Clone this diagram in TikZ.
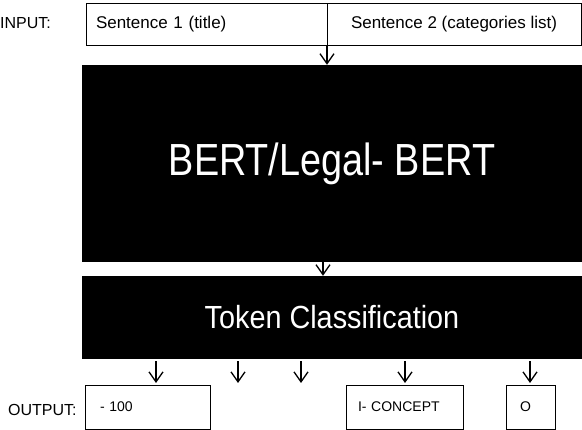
\documentclass[tikz,border=0pt]{standalone}
\usepackage{fontspec}
\setmainfont{Liberation Sans}
\usetikzlibrary{arrows.meta}
\tikzset{
  box/.style={draw=black, line width=0.9pt, minimum height=42pt, inner ysep=0pt, font=\fontsize{17}{20}\selectfont},
  blackbox/.style={fill=black, draw=none, text=white, minimum width=500pt, inner sep=0pt},
  outbox/.style={draw=black, line width=0.9pt, minimum height=44pt, inner ysep=0pt, align=left, font=\fontsize{14}{16}\selectfont},
  lbl/.style={anchor=west, inner sep=0pt, font=\fontsize{16}{18}\selectfont},
  arr/.style={-{Straight Barb[length=10pt,width=14pt,line width=1.3pt]}, line width=1.3pt}
}
\begin{document}
\begin{tikzpicture}[x=1pt,y=-1pt]
\useasboundingbox (0,0) rectangle (582,430);
% input
\node[box, text width=221pt, inner xsep=10pt, align=left] (in1) at (206.5,24) {Sentence 1 (title)};
\node[box, minimum width=254pt, inner xsep=0pt] (in2) at (454,24) {Sentence 2 (categories list)};
\node[lbl] (inlbl) at (0,23) {INPUT:};
% BERT
\node[blackbox, minimum height=197pt] (bert) at (332,163.5) {\fontsize{45}{50}\selectfont\scalebox{0.84}[1]{BERT/Legal- BERT}};
\node[blackbox, minimum height=83pt] (tok) at (332,317.5) {\fontsize{32}{36}\selectfont\scalebox{0.9}[1]{Token Classification}};
% outputs
\node[outbox, text width=95pt, inner xsep=15pt] (out1) at (147.5,407) {- 100};
\node[outbox, text width=93pt, inner xsep=12pt] (out2) at (404.5,407) {I- CONCEPT};
\node[outbox, text width=21pt, inner xsep=14pt] (out3) at (530.5,407) {O};
\node[lbl] (outlbl) at (8,410) {OUTPUT:};
% arrows
\coordinate (t0) at (327,46);
\draw[arr] (t0) -- (bert.north -| t0);
\coordinate (t1) at (323,262);
\draw[arr] (t1) -- (tok.north -| t1);
\coordinate (a1) at (156,383);
\coordinate (a2) at (238,383);
\coordinate (a3) at (301,383);
\coordinate (a4) at (405,383);
\coordinate (a5) at (530,383);
\foreach \c in {a1,a2,a3,a4,a5}{
  \draw[arr, shorten <=2pt] (tok.south -| \c) -- (\c);
}
\end{tikzpicture}
\end{document}
